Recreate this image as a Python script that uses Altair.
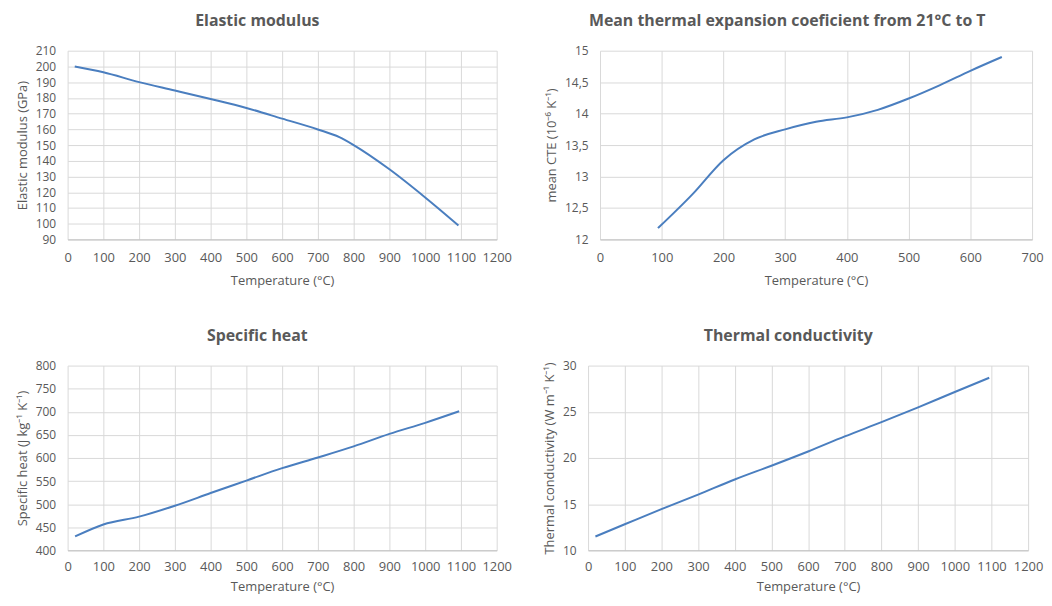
import altair as alt
import pandas as pd

# Elastic modulus
em_T = [20, 100, 200, 300, 400, 500, 600, 700, 760, 800, 900, 1000, 1093]
em_E = [200, 196.3, 190, 184.7, 179.3, 173.6, 166.8, 159.9, 155, 150, 134.6, 116.7, 98.9]

# Mean CTE
cte_T = [94, 150, 200, 250, 300, 350, 400, 450, 500, 550, 600, 651]
cte_V = [12.18, 12.72, 13.26, 13.59, 13.75, 13.87, 13.94, 14.06, 14.24, 14.45, 14.68, 14.9]

# Specific heat
sh_T = [21, 100, 200, 300, 400, 500, 600, 700, 800, 900, 1000, 1095]
sh_V = [430, 456, 473, 496.5, 524, 551, 578, 601, 625, 652, 676, 701]

# Thermal conductivity
tc_T = [20, 100, 200, 300, 400, 500, 600, 700, 800, 900, 1000, 1094]
tc_V = [11.5, 12.82, 14.46, 16.03, 17.67, 19.16, 20.7, 22.33, 23.87, 25.47, 27.14, 28.68]

LINE = "#4a7ebf"
TXT = "#595959"
FONT = "Open Sans"


def panel(T, V, title, ytitle, xmax, xstep, ymin, ymax, ystep, w, h, tdx,
          lpad=12, tpad=10, label_expr=None):
    df = pd.DataFrame({"T": T, "V": V})
    yaxis = dict(values=[round(ymin + i * ystep, 4) for i in range(int(round((ymax - ymin) / ystep)) + 1)],
                 title=ytitle)
    if label_expr:
        yaxis["labelExpr"] = label_expr
    else:
        yaxis["format"] = "d"
    return alt.Chart(df, title=alt.Title(title, dx=tdx)).mark_line(
        color=LINE, strokeWidth=2, interpolate="monotone"
    ).encode(
        x=alt.X("T:Q", scale=alt.Scale(domain=[0, xmax], nice=False),
                axis=alt.Axis(values=list(range(0, xmax + 1, xstep)), format="d",
                              title="Temperature (°C)", labelPadding=lpad, titlePadding=tpad)),
        y=alt.Y("V:Q", scale=alt.Scale(domain=[ymin, ymax], nice=False, zero=False),
                axis=alt.Axis(**yaxis)),
    ).properties(width=w, height=h)


p1 = panel(em_T, em_E, "Elastic modulus", "Elastic modulus (GPa)", 1200, 100, 90, 210, 10, 432, 190, -25)
p2 = panel(cte_T, cte_V, "Mean thermal expansion coeficient from 21°C to T", "mean CTE (10⁻⁶ K⁻¹)",
           700, 100, 12, 15, 0.5, 435, 190, -29,
           label_expr="replace(format(datum.value, '~g'), '.', ',')")
p3 = panel(sh_T, sh_V, "Specific heat", "Specific heat (J kg⁻¹ K⁻¹)", 1200, 100, 400, 800, 50,
           432, 186, -25, lpad=10, tpad=7)
p4 = panel(tc_T, tc_V, "Thermal conductivity", "Thermal conductivity (W m⁻¹ K⁻¹)", 1200, 100, 10, 30, 5,
           443, 186, -20, lpad=10, tpad=7)

row1 = alt.hconcat(p1, p2, spacing=34)
row2 = alt.hconcat(p3, p4, spacing=32)
chart = alt.vconcat(row1, row2, spacing=41).properties(
    padding={"left": 8, "top": 3, "right": 0, "bottom": 0}
).configure_view(stroke=None).configure_axis(
    labelFont=FONT, titleFont=FONT, labelColor=TXT, titleColor=TXT,
    labelFontSize=13, titleFontSize=13, titleFontWeight="normal",
    gridColor="#d9d9d9", domain=False, ticks=False,
    labelOverlap=False, labelFlush=False,
).configure_axisX(
    domain=True, domainColor="#bfbfbf",
).configure_axisY(
    labelFontSize=12, labelPadding=12, titlePadding=6,
).configure_title(
    font=FONT, fontSize=16, fontWeight="bold", color=TXT, offset=16, anchor="middle",
)

chart.save("out.html", embed_options={"renderer": "svg", "actions": False})
